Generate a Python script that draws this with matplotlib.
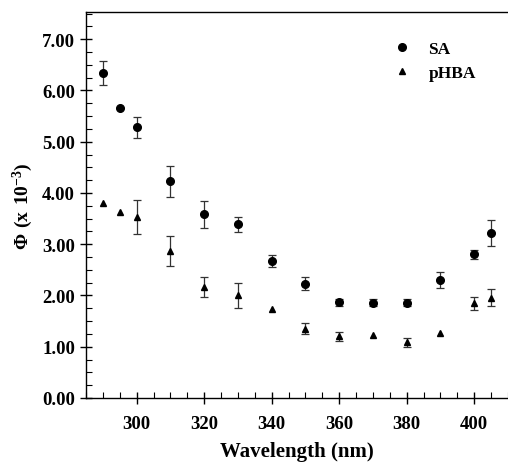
import numpy as np
import matplotlib
matplotlib.use("Agg")
import matplotlib.pyplot as plt
from matplotlib.ticker import MultipleLocator
from matplotlib.lines import Line2D

plt.rcParams['font.family'] = ['Liberation Serif', 'DejaVu Serif']
plt.rcParams['mathtext.fontset'] = 'custom'
plt.rcParams['mathtext.rm'] = 'Liberation Serif'
plt.rcParams['mathtext.bf'] = 'Liberation Serif:bold'

# Wavelengths (nm)
wl = [290, 295, 300, 310, 320, 330, 340, 350, 360, 370, 380, 390, 400, 405]

# Quantum yield, x 10^-3 (nan = error bar hidden behind marker)
sa = [6.34, 5.66, 5.28, 4.23, 3.58, 3.39, 2.67, 2.23, 1.87, 1.86, 1.86, 2.30, 2.80, 3.22]
sa_err = [0.24, np.nan, 0.21, 0.30, 0.27, 0.15, 0.12, 0.13, 0.07, 0.07, 0.07, 0.15, 0.08, 0.26]

phba = [3.81, 3.62, 3.53, 2.87, 2.17, 2.00, 1.74, 1.35, 1.20, 1.22, 1.09, 1.27, 1.85, 1.96]
phba_err = [np.nan, np.nan, 0.33, 0.29, 0.20, 0.25, np.nan, 0.11, 0.08, np.nan, 0.09, np.nan, 0.13, 0.17]

fig = plt.figure(figsize=(5.08, 4.64), dpi=100)
ax = fig.add_axes([86/508, 65/464, 422/508, 386/464])

ax.errorbar(wl, sa, yerr=sa_err, fmt='o', color='black', ms=5.5,
            ecolor='#333333', elinewidth=0.9, capsize=3, capthick=0.9)
ax.errorbar(wl, phba, yerr=phba_err, fmt='^', color='black', ms=5,
            ecolor='#333333', elinewidth=0.9, capsize=3, capthick=0.9)

ax.set_xlim(285, 410)
ax.set_ylim(0, 7.53)
ax.xaxis.set_major_locator(MultipleLocator(20))
ax.xaxis.set_minor_locator(MultipleLocator(5))
ax.yaxis.set_major_locator(MultipleLocator(1))
ax.yaxis.set_minor_locator(MultipleLocator(0.25))
ax.set_yticks(np.arange(0, 8))
ax.set_yticklabels([f"{v:.2f}" for v in range(8)])

ax.tick_params(which='major', direction='inout', length=8, width=1, labelsize=13.5, pad=4)
ax.tick_params(which='minor', direction='in', length=4, width=0.8)
ax.tick_params(axis='x', pad=8)
for lab in ax.get_xticklabels() + ax.get_yticklabels():
    lab.set_fontweight('bold')

ax.spines['right'].set_visible(False)
for s in ['left', 'bottom', 'top']:
    ax.spines[s].set_linewidth(1.0)

ax.set_xlabel('Wavelength (nm)', fontsize=15, fontweight='bold', labelpad=7)
ax.set_ylabel(r'$\mathbf{\Phi\ (x\ 10^{-3})}$', fontsize=14, labelpad=5)

handles = [Line2D([], [], ls='none', marker='o', color='black', ms=5.5),
           Line2D([], [], ls='none', marker='^', color='black', ms=5)]
ax.legend(handles, ['SA', 'pHBA'], loc='upper left',
          bbox_to_anchor=(385/508, 1 - 33/464), bbox_transform=fig.transFigure,
          frameon=False, prop={'weight': 'bold', 'size': 12.5},
          handletextpad=1.0, labelspacing=0.45, handlelength=1.0, borderpad=0)

fig.savefig('out.png', dpi=100)
